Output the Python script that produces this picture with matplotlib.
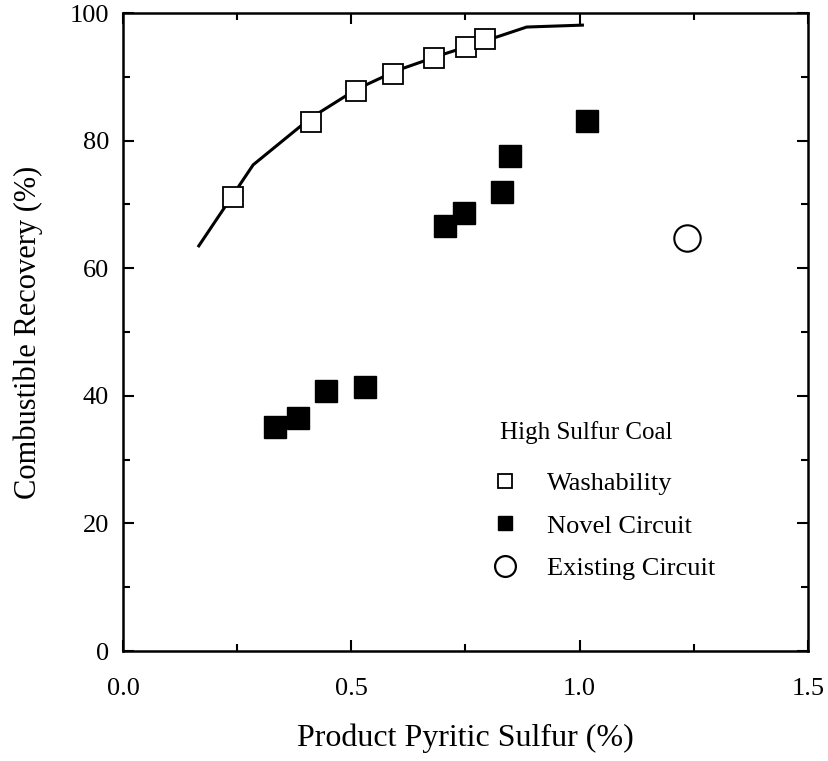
import matplotlib.pyplot as plt
from matplotlib.lines import Line2D
from matplotlib.ticker import MultipleLocator

plt.rcParams['font.family'] = ['Liberation Serif', 'DejaVu Serif']

# washability curve
curve_x = [0.166, 0.285, 0.41, 0.51, 0.60, 0.70, 0.80, 0.884, 1.006]
curve_y = [63.5, 76.2, 83.5, 88.0, 91.0, 93.5, 95.8, 97.8, 98.1]

# washability points
wash_x = [0.240, 0.411, 0.511, 0.592, 0.682, 0.752, 0.793]
wash_y = [71.2, 82.9, 87.7, 90.5, 92.9, 94.7, 96.0]

# novel circuit
novel_x = [0.332, 0.383, 0.445, 0.531, 0.705, 0.747, 0.829, 0.847, 1.015]
novel_y = [35.1, 36.5, 40.8, 41.4, 66.6, 68.6, 72.0, 77.6, 83.0]

# existing circuit
exist_x = [1.234]
exist_y = [64.8]

fig = plt.figure(figsize=(8.29, 7.61), dpi=100)
ax = fig.add_axes([123 / 829, 1 - 651 / 761, (808 - 123) / 829, (651 - 13) / 761])

ax.plot(curve_x, curve_y, color='black', lw=2.2, zorder=2)
ax.plot(wash_x, wash_y, ls='none', marker='s', ms=14.5, mfc='white', mec='black', mew=1.3, zorder=3)
ax.plot(novel_x, novel_y, ls='none', marker='s', ms=16, mfc='black', mec='black', zorder=3)
ax.plot(exist_x, exist_y, ls='none', marker='o', ms=19, mfc='none', mec='black', mew=1.5, zorder=3)

ax.set_xlim(0, 1.5)
ax.set_ylim(0, 100)
ax.xaxis.set_major_locator(MultipleLocator(0.5))
ax.xaxis.set_minor_locator(MultipleLocator(0.25))
ax.yaxis.set_major_locator(MultipleLocator(20))
ax.yaxis.set_minor_locator(MultipleLocator(10))
ax.set_xticklabels([f'{v:.1f}' for v in ax.get_xticks()])
ax.tick_params(which='both', direction='in', top=True, right=True, width=1.5, labelsize=19)
ax.tick_params(which='major', length=8)
ax.tick_params(which='minor', length=5)
ax.tick_params(axis='x', pad=19.5)
ax.tick_params(axis='y', pad=10)
for s in ax.spines.values():
    s.set_linewidth(1.8)

ax.set_xlabel('Product Pyritic Sulfur (%)', fontsize=23, labelpad=17)
ax.set_ylabel('Combustible Recovery (%)', fontsize=22, labelpad=19)

ax.text(0.550, 0.343, 'High Sulfur Coal', transform=ax.transAxes,
        fontsize=18, ha='left', va='center')
handles = [
    Line2D([], [], ls='none', marker='s', ms=9.5, mfc='white', mec='black', mew=1.3),
    Line2D([], [], ls='none', marker='s', ms=9.5, mfc='black', mec='black'),
    Line2D([], [], ls='none', marker='o', ms=15, mfc='none', mec='black', mew=1.6),
]
leg = ax.legend(handles, ['Washability', 'Novel Circuit', 'Existing Circuit'],
                loc='upper left', bbox_to_anchor=(0.534, 0.281), frameon=False,
                fontsize=19, labelspacing=0.72, handletextpad=1.0,
                handlelength=1.2, borderpad=0, borderaxespad=0)

fig.savefig('out.png', dpi=100)
